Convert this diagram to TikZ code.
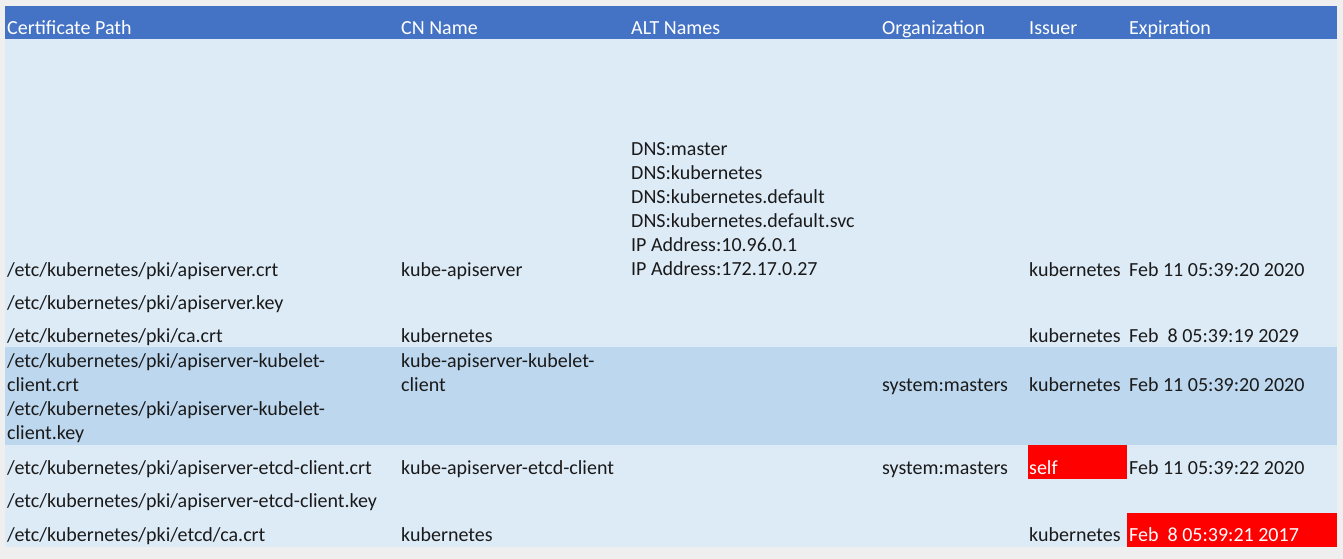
\documentclass[tikz,border=0pt]{standalone}
\usepackage{fontspec}
\setmainfont{Carlito}
\definecolor{hdrblue}{HTML}{4472C4}
\definecolor{rowlight}{HTML}{DDEBF7}
\definecolor{rowdark}{HTML}{BDD7EE}
\definecolor{pagegrey}{HTML}{EFEFEF}
\definecolor{inkdark}{HTML}{1A1A1A}
\begin{document}
\begin{tikzpicture}[x=1pt, y=-1pt,
    cell/.style={anchor=base west, inner sep=0pt, text=inkdark,
      font=\fontsize{20}{24}\selectfont},
    headcell/.style={cell, text=white},
    alarm/.style={cell, text=white}]
            \fill[pagegrey] (0,0) rectangle (1343,559);
            \useasboundingbox (0,0) rectangle (1343,559);
            % table body and bands
            \fill[rowlight] (5,39) rectangle (1337,547);
            \fill[rowdark] (5,347) rectangle (1337,445);
            \fill[hdrblue] (5,6) rectangle (1337,39);
            \fill[red] (1028,445) rectangle (1127,479);
            \fill[red] (1127,513) rectangle (1337,547);
            % header
            \node[headcell] (hpath) at (7,35) {Certificate Path};
            \node[headcell] (hcn) at (401,35) {CN Name};
            \node[headcell] (halt) at (631,35) {ALT Names};
            \node[headcell] (horg) at (882,35) {Organization};
            \node[headcell] (hiss) at (1029,35) {Issuer};
            \node[headcell] (hexp) at (1129,35) {Expiration};
            % apiserver.crt
            \node[cell] (alt1) at (631,155) {DNS:master};
            \node[cell] (alt2) at (631,179) {DNS:kubernetes};
            \node[cell] (alt3) at (631,203) {DNS:kubernetes.default};
            \node[cell] (alt4) at (631,227) {DNS:kubernetes.default.svc};
            \node[cell] (alt5) at (631,251) {IP Address:10.96.0.1};
            \node[cell] (alt6) at (631,275) {IP Address:172.17.0.27};
            \node[cell] (apicrt) at (7,276) {/etc/kubernetes/pki/apiserver.crt};
            \node[cell] (apicn) at (401,276) {kube-apiserver};
            \node[cell] (apiiss) at (1029,276) {kubernetes};
            \node[cell] (apiexp) at (1129,276) {Feb 11 05:39:20 2020};
            \node[cell] (apikey) at (7,309) {/etc/kubernetes/pki/apiserver.key};
            % ca.crt
            \node[cell] (cacrt) at (7,342) {/etc/kubernetes/pki/ca.crt};
            \node[cell] (cacn) at (401,342) {kubernetes};
            \node[cell] (caiss) at (1029,342) {kubernetes};
            \node[cell] (caexp) at (1129,342) {Feb\ \ 8 05:39:19 2029};
            % kubelet client
            \node[cell] (kubcrta) at (7,367) {/etc/kubernetes/pki/apiserver-kubelet-};
            \node[cell] (kubcrtb) at (7,391) {client.crt};
            \node[cell] (kubkeya) at (7,415) {/etc/kubernetes/pki/apiserver-kubelet-};
            \node[cell] (kubkeyb) at (7,439) {client.key};
            \node[cell] (kubcna) at (401,367) {kube-apiserver-kubelet-};
            \node[cell] (kubcnb) at (401,391) {client};
            \node[cell] (kuborg) at (882,391) {system:masters};
            \node[cell] (kubiss) at (1029,391) {kubernetes};
            \node[cell] (kubexp) at (1129,391) {Feb 11 05:39:20 2020};
            % etcd client
            \node[cell] (etccrt) at (7,474) {/etc/kubernetes/pki/apiserver-etcd-client.crt};
            \node[cell] (etccn) at (401,474) {kube-apiserver-etcd-client};
            \node[cell] (etcorg) at (882,474) {system:masters};
            \node[alarm] (etciss) at (1029,474) {self};
            \node[cell] (etcexp) at (1129,474) {Feb 11 05:39:22 2020};
            \node[cell] (etckey) at (7,507) {/etc/kubernetes/pki/apiserver-etcd-client.key};
            % etcd ca
            \node[cell] (ecacrt) at (7,541) {/etc/kubernetes/pki/etcd/ca.crt};
            \node[cell] (ecacn) at (401,541) {kubernetes};
            \node[cell] (ecaiss) at (1029,541) {kubernetes};
            \node[alarm] (ecaexp) at (1129,541) {Feb\ \ 8 05:39:21 2017};
\end{tikzpicture}
\end{document}
